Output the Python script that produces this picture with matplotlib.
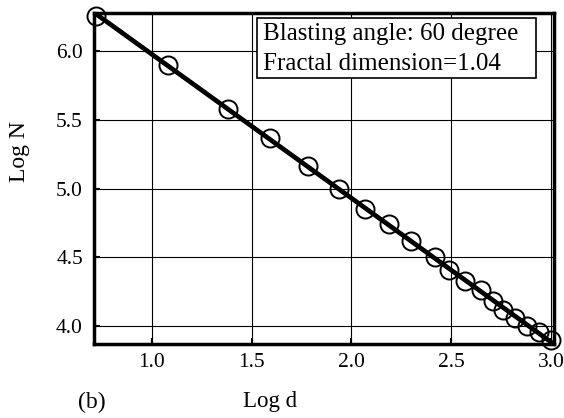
import numpy as np
import matplotlib
matplotlib.use("Agg")
import matplotlib.pyplot as plt
from matplotlib.patches import Rectangle

# data
log_d = [0.72, 1.08, 1.38, 1.59, 1.785, 1.94, 2.07, 2.19, 2.30, 2.42, 2.49,
         2.57, 2.65, 2.71, 2.76, 2.82, 2.88, 2.94, 3.00]
log_n = [6.26, 5.90, 5.58, 5.37, 5.165, 5.00, 4.85, 4.745, 4.62, 4.505, 4.41,
         4.33, 4.26, 4.18, 4.12, 4.06, 4.00, 3.96, 3.90]
x_ticks = [1.0, 1.5, 2.0, 2.5, 3.0]
y_ticks = [4.0, 4.5, 5.0, 5.5, 6.0]
note_lines = ["Blasting angle: 60 degree", "Fractal dimension=1.04"]

plt.rcParams['font.family'] = ['Liberation Serif', 'DejaVu Serif']

fig = plt.figure(figsize=(5.64, 4.18), dpi=100)
ax = fig.add_axes([0.1667, 0.177, 0.8153, 0.792])

# fitted line through the points
k, b = np.polyfit(log_d, log_n, 1)
xx = np.array([min(log_d), max(log_d)])
ax.plot(xx, k * xx + b, color='black', lw=3.4, zorder=3)
ax.plot(log_d, log_n, 'o', mfc='none', mec='black', ms=13, mew=1.4, zorder=4,
        clip_on=False)

ax.set_xlim(0.71, 3.015)
ax.set_ylim(3.87, 6.28)
ax.set_xticks(x_ticks)
ax.set_yticks(y_ticks)
ax.set_xticklabels([f"{v:.1f}" for v in x_ticks])
ax.set_yticklabels([f"{v:.1f}" for v in y_ticks])
ax.grid(True, color='black', lw=0.8)
ax.set_axisbelow(True)
ax.tick_params(direction='in', length=4, width=1.5, labelsize=15.5)
ax.tick_params(axis='y', pad=8)
ax.tick_params(axis='x', pad=6.5)
for s in ax.spines.values():
    s.set_linewidth(2.5)

ax.set_xlabel("Log d", fontsize=16.5, va='center')
ax.xaxis.set_label_coords(0.383, -0.175)
ax.set_ylabel("Log N", fontsize=17, va='center')
ax.yaxis.set_label_coords(-0.161, 0.58)
fig.text(92 / 564, 1 - 402 / 418, "(b)", fontsize=17, ha='center', va='center')

# note box
ax.add_patch(Rectangle((0.354, 0.804), 0.607, 0.181, transform=ax.transAxes,
                       fc='white', ec='black', lw=1.2, zorder=5))
ax.text(0.367, 0.918, note_lines[0], transform=ax.transAxes, fontsize=18,
        ha='left', va='baseline', zorder=6)
ax.text(0.367, 0.828, note_lines[1], transform=ax.transAxes, fontsize=18,
        ha='left', va='baseline', zorder=6)

fig.savefig("out.png", dpi=100)
